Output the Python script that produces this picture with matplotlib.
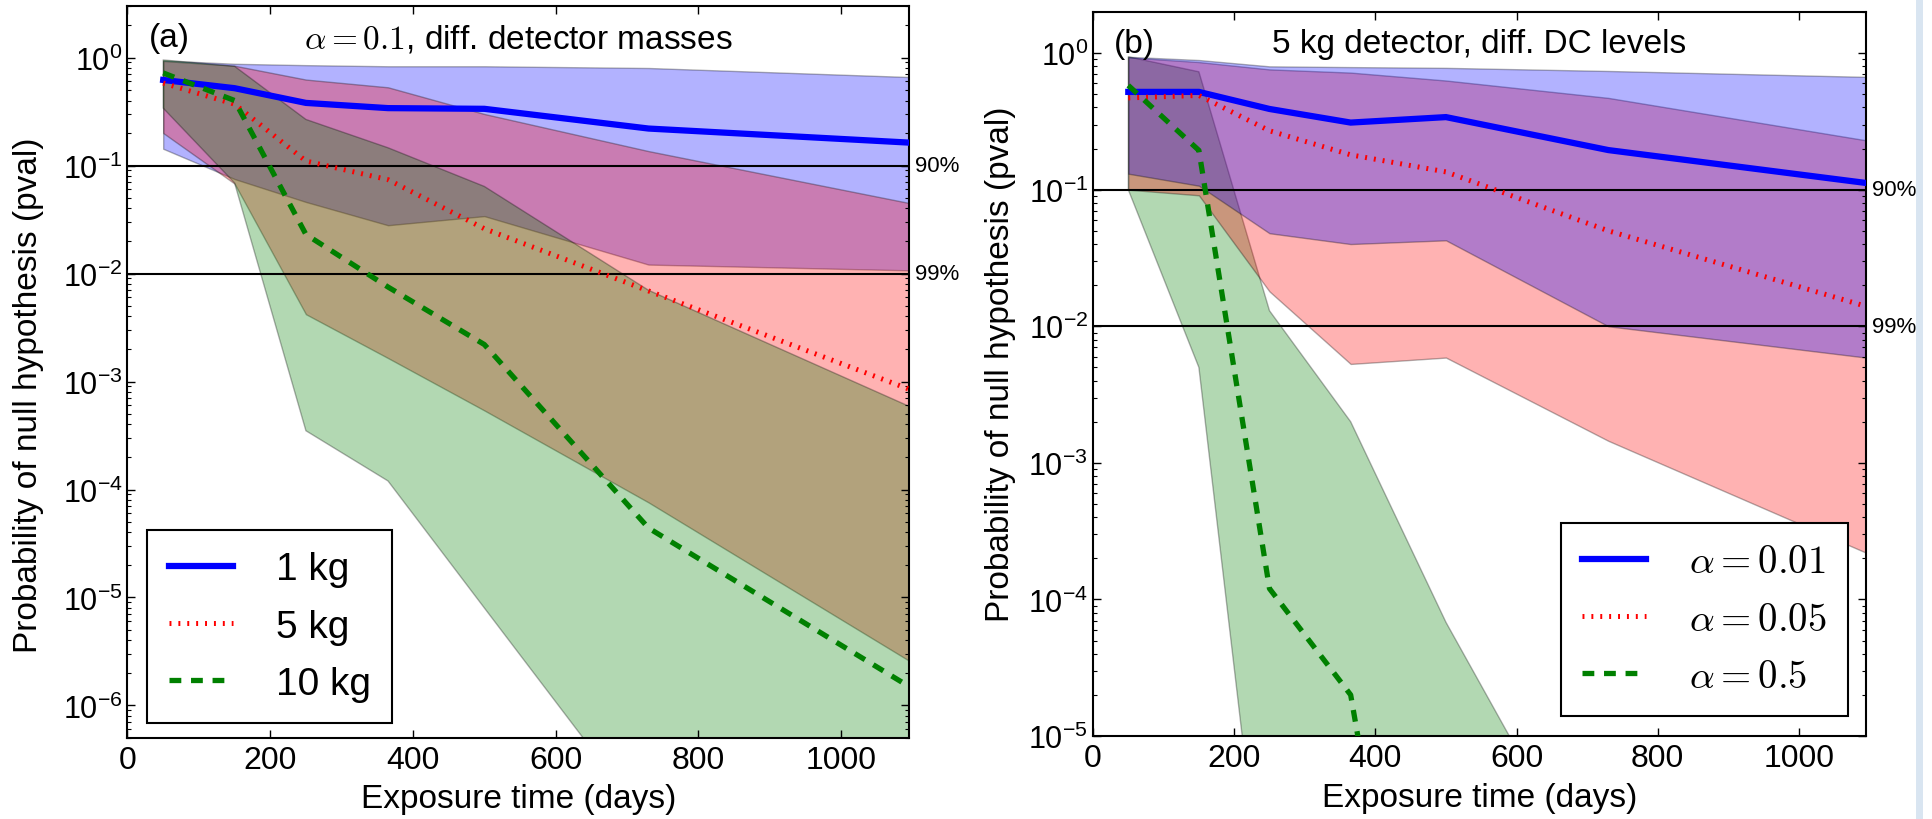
import matplotlib
matplotlib.use('Agg')
import matplotlib.pyplot as plt
from matplotlib.ticker import LogLocator, NullFormatter
from matplotlib.patches import Rectangle

plt.rcParams['font.family'] = ['Liberation Sans', 'DejaVu Sans']
plt.rcParams['mathtext.fontset'] = 'cm'
plt.rcParams['axes.unicode_minus'] = False
plt.rcParams['lines.scale_dashes'] = False
plt.rcParams['xtick.direction'] = 'in'
plt.rcParams['ytick.direction'] = 'in'
plt.rcParams['xtick.top'] = True
plt.rcParams['ytick.right'] = True

# ---------------- data ----------------
days = [50, 150, 250, 365, 500, 730, 1095]
xticks = [0, 200, 400, 600, 800, 1000]

# panel (a): alpha = 0.1, different detector masses
labels_a = ['1 kg', '5 kg', '10 kg']
m1_mid = [0.62, 0.52, 0.38, 0.34, 0.335, 0.22, 0.163]
m1_lo = [0.143, 0.075, 0.046, 0.028, 0.034, 0.0121, 0.0107]
m1_hi = [0.94, 0.875, 0.85, 0.83, 0.83, 0.80, 0.66]

m5_mid = [0.58, 0.37, 0.11, 0.074, 0.026, 0.0069, 0.00085]
m5_lo = [0.20, 0.068, 0.0042, 0.00165, 0.00054, 7.6e-5, 2.6e-6]
m5_hi = [0.93, 0.84, 0.625, 0.53, 0.30, 0.136, 0.045]

m10_mid = [0.72, 0.40, 0.023, 0.0075, 0.0022, 4.4e-5, 1.5e-6]
m10_lo = [0.34, 0.069, 3.5e-4, 1.2e-4, 8e-6, 8e-8, 1e-10]
m10_hi = [0.95, 0.83, 0.267, 0.146, 0.064, 0.007, 5.9e-4]

# panel (b): 5 kg detector, different DC levels
labels_b = [r'$\alpha=0.01$', r'$\alpha=0.05$', r'$\alpha=0.5$']
a01_mid = [0.52, 0.52, 0.39, 0.31, 0.34, 0.195, 0.112]
a01_lo = [0.131, 0.107, 0.048, 0.040, 0.0426, 0.010, 0.0059]
a01_hi = [0.94, 0.89, 0.80, 0.79, 0.78, 0.74, 0.67]

a05_mid = [0.47, 0.49, 0.27, 0.18, 0.135, 0.05, 0.014]
a05_lo = [0.10, 0.091, 0.018, 0.0053, 0.0059, 0.00145, 2.2e-4]
a05_hi = [0.93, 0.86, 0.76, 0.72, 0.63, 0.47, 0.23]

a5_mid = [0.58, 0.194, 1.2e-4, 2e-5, 2e-9, 1e-12, 1e-15]
a5_lo = [0.10, 5e-3, 2e-7, 1e-9, 1e-12, 1e-15, 1e-18]
a5_hi = [0.94, 0.73, 0.013, 2e-3, 6.8e-5, 5e-7, 2e-10]

cl_levels = [0.1, 0.01]
cl_labels = ['90%', '99%']

# ---------------- figure ----------------
W, H = 1933, 820
fig = plt.figure(figsize=(W / 100, H / 100), dpi=100)
axA = fig.add_axes([127.5 / W, (H - 739) / H, (909 - 127.5) / W, (739 - 7) / H])
axB = fig.add_axes([1093 / W, (H - 737) / H, (1866 - 1093) / W, (737 - 13) / H])

fill_colors = [(0, 0, 1), (1, 0, 0), (0, 0.5, 0)]


def panel(ax, mids, los, his, labels, ylim, tag, title, leg_loc, leg_anchor,
          ylab_xy, xlab_y, fill_order):
    for i in fill_order:
        ax.fill_between(days, los[i], his[i], facecolor=fill_colors[i], edgecolor='k',
                        alpha=0.3, linewidth=1.0, zorder=1)
    for lev, lab in zip(cl_levels, cl_labels):
        ax.axhline(lev, color='k', lw=1.5, zorder=1.5)
        ax.text(1104, lev, lab, fontsize=16, va='center', ha='left', clip_on=False)
    ax.plot(days, mids[0], color='b', lw=4.5, solid_joinstyle='miter', label=labels[0], zorder=3)
    ax.plot(days, mids[1], color='r', lw=3.6, dashes=(1.4, 5.0), dash_capstyle='butt',
            label=labels[1], zorder=3)
    ax.plot(days, mids[2], color=(0, 0.5, 0), lw=3.8, dashes=(8.5, 7.0), dash_capstyle='butt',
            label=labels[2], zorder=3)

    ax.set_yscale('log')
    ax.set_xlim(0, 1095)
    ax.set_ylim(*ylim)
    ax.set_xticks(xticks)
    ax.yaxis.set_major_locator(LogLocator(base=10, numticks=30))
    ax.yaxis.set_minor_locator(LogLocator(base=10, subs=range(2, 10), numticks=30))
    ax.yaxis.set_minor_formatter(NullFormatter())
    ax.tick_params(axis='both', which='major', length=6, width=1)
    ax.tick_params(axis='both', which='minor', length=3, width=0.8)
    ax.tick_params(axis='y', which='major', pad=3.5, labelsize=22)
    ax.tick_params(axis='x', which='major', pad=5, labelsize=23)
    for s in ax.spines.values():
        s.set_linewidth(1.5)

    ax.set_ylabel('Probability of null hypothesis (pval)', fontsize=24)
    ax.yaxis.set_label_coords(*ylab_xy)
    ax.set_xlabel('Exposure time (days)', fontsize=24)
    ax.xaxis.set_label_coords(0.5, xlab_y)

    ax.text(0.027, 0.978, tag, transform=ax.transAxes, fontsize=24, va='top', ha='left')
    ax.text(0.5, 0.978, title, transform=ax.transAxes, fontsize=24, va='top', ha='center')

    leg = ax.legend(loc=leg_loc, bbox_to_anchor=leg_anchor, borderaxespad=0,
                    fontsize=28, handlelength=1.65, handletextpad=1.1,
                    labelspacing=0.55, borderpad=0.55, fancybox=False,
                    framealpha=1, edgecolor='k')
    leg.get_frame().set_linewidth(1.5)


panel(axA, [m1_mid, m5_mid, m10_mid], [m1_lo, m5_lo, m10_lo], [m1_hi, m5_hi, m10_hi],
      labels_a, (5e-7, 3.0), '(a)', r'$\alpha=0.1$, diff. detector masses',
      'lower left', (0.0255, 0.02), (-0.107, 0.47), -0.062, [0, 1, 2])
panel(axB, [a01_mid, a05_mid, a5_mid], [a01_lo, a05_lo, a5_lo], [a01_hi, a05_hi, a5_hi],
      labels_b, (1e-5, 2.0), '(b)', '5 kg detector, diff. DC levels',
      'lower right', (0.977, 0.027), (-0.099, 0.515), -0.064, [2, 1, 0])

# faint border strip at the far right of the page
fig.patches.append(Rectangle((1916 / W, 0), 7 / W, 1, transform=fig.transFigure,
                             facecolor='#d9e5f1', edgecolor='none'))

fig.savefig('out.png', dpi=100)
